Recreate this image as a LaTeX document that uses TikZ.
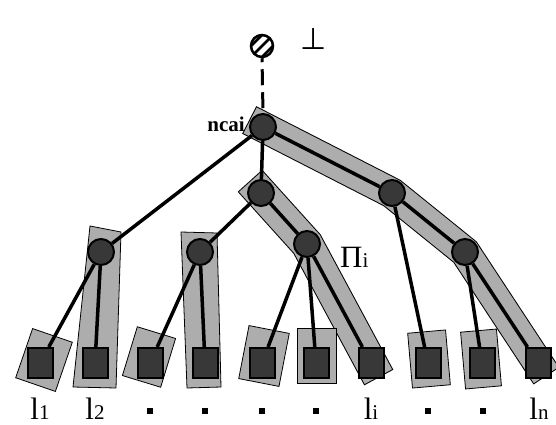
\documentclass[tikz,border=0pt]{standalone}
\usepackage{fontspec}
\setmainfont{Liberation Serif}
\newfontfamily\symbolfont{DejaVu Sans}
\definecolor{bandgray}{HTML}{ADADAD}
\definecolor{nodefill}{HTML}{383838}
\pgfdeclarelayer{bands}
\pgfdeclarelayer{edges}
\pgfsetlayers{bands,edges,main}
\newcommand\leaflabel[1]{{\fontsize{31}{31}\selectfont l}{\fontsize{21}{21}\selectfont #1}}
\begin{document}
\begin{tikzpicture}[x=1pt,y=-1pt,
  bandline/.style={line join=miter, line cap=rect},
  inner/.style={circle, draw=black, line width=2pt, fill=nodefill, minimum size=26pt, inner sep=0pt},
  leaf/.style={rectangle, draw=black, line width=2pt, fill=nodefill, minimum width=25pt, minimum height=30pt, inner sep=0pt},
  leafbox/.style={rectangle, draw=black, line width=0.8pt, fill=bandgray, inner sep=0pt},
  bandpoly/.style={draw=black, line width=0.8pt, fill=bandgray},
  edge/.style={line width=3.5pt},
  lab/.style={inner sep=0pt, anchor=base},
  dotsq/.style={rectangle, fill=black, minimum size=6pt, inner sep=0pt}
]
\useasboundingbox (0,0) rectangle (556,425);

% inner nodes of the tree
\node[inner] (ncai) at (263,127) {};
\node[inner] (A) at (101,252) {};
\node[inner] (B) at (261,193) {};
\node[inner] (C) at (392,193) {};
\node[inner] (D) at (200,252) {};
\node[inner] (E) at (307,244) {};
\node[inner] (F) at (465,252) {};

% leaves
\foreach \n/\x in {1/40,2/95,3/150,4/205,5/262,6/316,7/371,8/428,9/482,10/538}
  \node[leaf] (l\n) at (\x,363) {};

% hatched root marker and bottom symbol
\node[circle, draw=black, fill=white, line width=2.5pt, minimum size=22pt, inner sep=0pt] (bot) at (262,46) {};
\begin{scope}
  \clip (bot.center) circle (11pt);
  \foreach \k in {-5.5,0,5.5}
    \draw[line width=2.6pt] ([shift={(-15+\k,15+\k)}]bot.center) -- ([shift={(15+\k,-15+\k)}]bot.center);
\end{scope}
\node[inner sep=0pt] (perp) at (314,39) {\symbolfont\fontsize{30}{30}\selectfont ⊥};

% labels
\node[inner sep=0pt, anchor=base east] (ncailab) at (245,131) {\fontsize{21}{21}\selectfont\bfseries ncai};
\node[inner sep=0pt, anchor=base west] (pilab) at (340,267) {{\fontsize{31}{31}\selectfont Π}{\fontsize{21}{21}\selectfont i}};
\node[lab] (t1) at (40,419) {\leaflabel{1}};
\node[lab] (t2) at (95,419) {\leaflabel{2}};
\node[lab] (t7) at (371,419) {\leaflabel{i}};
\node[lab] (t10) at (539,419) {\leaflabel{n}};
\foreach \n/\x in {3/150,4/205,5/262,6/316,8/428,9/483}
  \node[dotsq] (t\n) at (\x,411) {};

% shaded paths and leaf frames
\begin{pgfonlayer}{bands}
  \draw[bandline, line width=31pt, black] (ncai.center) -- (C.center) -- (F.center) -- (l10.center);
  \draw[bandline, line width=29pt, bandgray] (ncai.center) -- (C.center) -- (F.center) -- (l10.center);
  \draw[bandline, line width=33pt, black] (B.center) -- (E.center) -- (l7.center);
  \draw[bandline, line width=31pt, bandgray] (B.center) -- (E.center) -- (l7.center);
  \draw[bandpoly] (90,226) -- (121,232) -- (116,388) -- (73,387) -- cycle;
  \draw[bandpoly] (181,232) -- (217,233) -- (221,387) -- (187,388) -- cycle;
  \node[leafbox, minimum width=42pt, minimum height=52pt, rotate=-19] (box1) at (44,360) {};
  \node[leafbox, minimum width=40pt, minimum height=51pt, rotate=-17] (box3) at (149,357) {};
  \node[leafbox, minimum width=41pt, minimum height=54pt, rotate=-11] (box5) at (264,356) {};
  \node[leafbox, minimum width=39pt, minimum height=55pt] (box6) at (317,356) {};
  \node[leafbox, minimum width=38pt, minimum height=55pt, rotate=5] (box8) at (429,359) {};
  \node[leafbox, minimum width=36pt, minimum height=57pt, rotate=5] (box9) at (481,359) {};
\end{pgfonlayer}

% tree edges
\begin{pgfonlayer}{edges}
  \draw[line width=3pt, dash pattern=on 16pt off 7pt, dash phase=12pt] (bot.south) -- (ncai.north);
  \draw[edge] (ncai) -- (A);
  \draw[edge] (ncai) -- (B);
  \draw[edge] (ncai) -- (C);
  \draw[edge] (A) -- (l1);
  \draw[edge] (A) -- (l2);
  \draw[edge] (B) -- (D);
  \draw[edge] (B) -- (E);
  \draw[edge] (D) -- (l3);
  \draw[edge] (D) -- (l4);
  \draw[edge] (E) -- (l5);
  \draw[edge] (E) -- (l6);
  \draw[edge] (E) -- (l7);
  \draw[edge] (C) -- (l8);
  \draw[edge] (C) -- (F);
  \draw[edge] (F) -- (l9);
  \draw[edge] (F) -- (l10);
\end{pgfonlayer}
\end{tikzpicture}
\end{document}
